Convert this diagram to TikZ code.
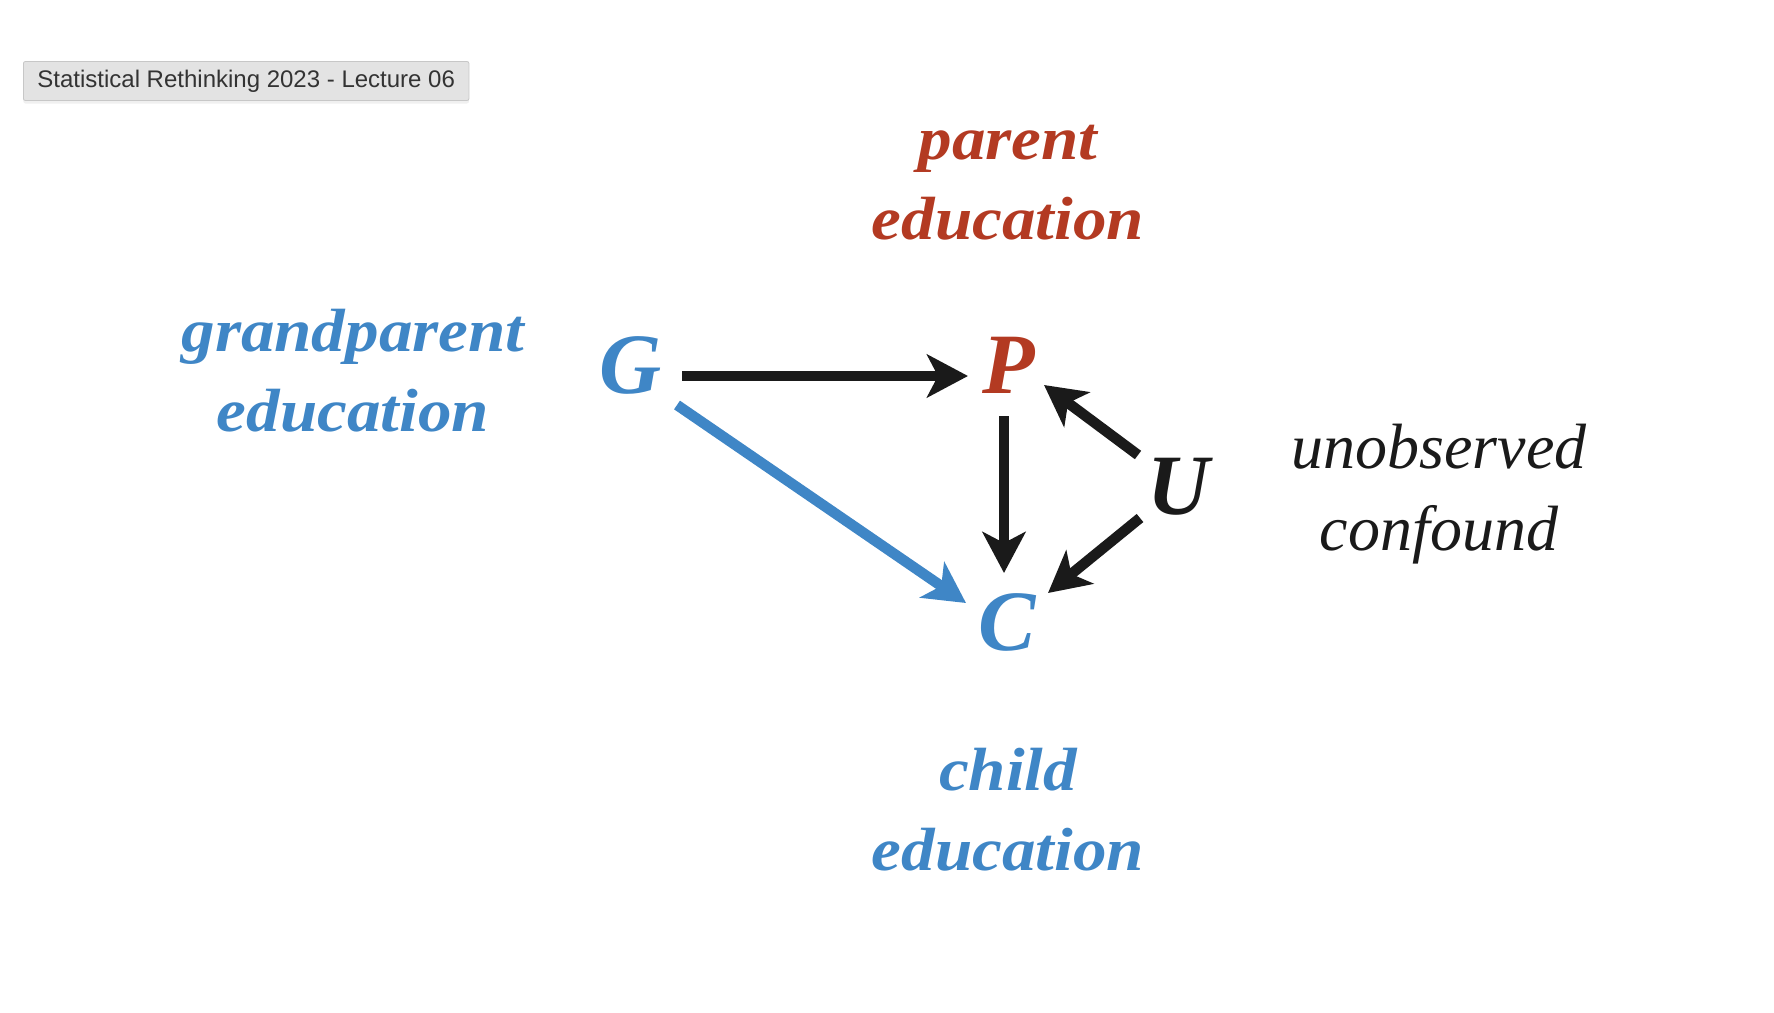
\documentclass[tikz,border=0pt]{standalone}
\usepackage{fontspec}
\setmainfont{Liberation Serif}
\setsansfont{Liberation Sans}
\newfontfamily\wideserif[FakeStretch=1.1]{Liberation Serif}
\usetikzlibrary{arrows.meta,shadows}
\definecolor{dagblue}{HTML}{3F86C6}
\definecolor{dagred}{HTML}{B33A22}
\definecolor{dagink}{HTML}{1A1A1A}
\begin{document}
\begin{tikzpicture}[x=1pt, y=-1pt,
        var/.style = {anchor=base, inner sep=0pt, font=\fontsize{86}{86}\selectfont\bfseries\itshape},
        desc/.style = {anchor=base, inner sep=0pt, align=center, font=\wideserif\fontsize{61}{80}\selectfont\bfseries\itshape},
        arr/.style = {line width=10.5pt, -{Stealth[length=41pt, width=43pt, inset=11pt]}},
        tag/.style = {anchor=west, fill=black!11, draw=black!22, line width=0.8pt, rounded corners=2pt,
            minimum height=39pt, inner xsep=14pt, text=black!80, font=\sffamily\fontsize{24}{24}\selectfont,
            drop shadow={opacity=0.12, shadow xshift=0pt, shadow yshift=-3pt}}
    ]
    \useasboundingbox (0,0) rectangle (1774,1012);
    \node[tag] (title) at (23,81) {Statistical Rethinking 2023 - Lecture 06};
    % variables
    \node[var, text=dagblue] (g) at (631,393) {G};
    \node[var, text=dagred] (p) at (1009,393) {P};
    \node[var, text=dagink] (u) at (1179,514) {U};
    \node[var, text=dagblue] (c) at (1007,650) {C};
    % descriptions (base = last line)
    \node[desc, text=dagred] (pdesc) at (1008,239) {parent\\education};
    \node[desc, text=dagblue] (gdesc) at (353,431) {grandparent\\education};
    \node[desc, text=dagblue] (cdesc) at (1008,870) {child\\education};
    \node[anchor=base, inner sep=0pt, align=center, text=dagink,
        font=\fontsize{64}{82}\selectfont\itshape] (udesc) at (1439,550) {unobserved\\confound};
    % arrows
    \draw[arr, dagink] ([shift={(51,-17)}]g.base) -- ([shift={(-41,-17)}]p.base);
    \draw[arr, dagblue] ([shift={(46,12)}]g.base) -- ([shift={(-41,-47)}]c.base);
    \draw[arr, dagink] ([shift={(-5,23)}]p.base) -- ([shift={(-3,-77)}]c.base);
    \draw[arr, dagink] ([shift={(-41,-59)}]u.base) -- ([shift={(35,-8)}]p.base);
    \draw[arr, dagink] ([shift={(-39,4)}]u.base) -- ([shift={(41,-57)}]c.base);
\end{tikzpicture}
\end{document}
